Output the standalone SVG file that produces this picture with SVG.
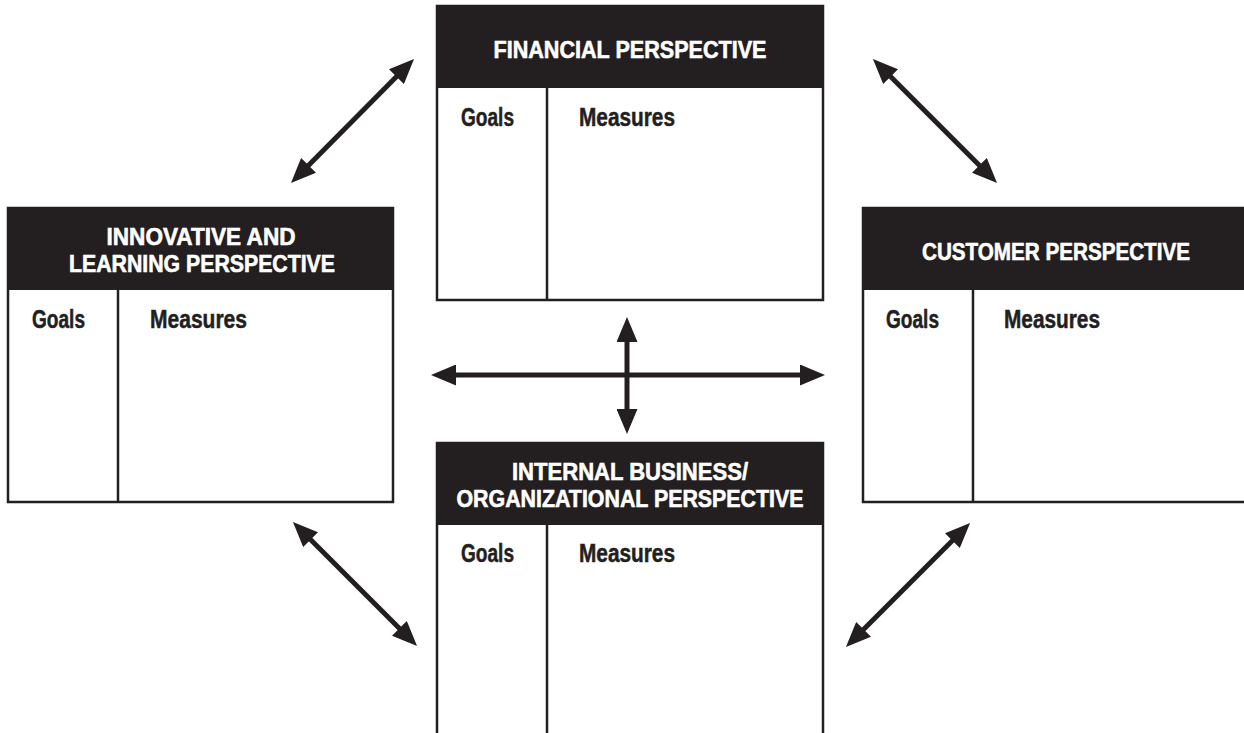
<svg xmlns="http://www.w3.org/2000/svg" width="1244" height="733" viewBox="0 0 1244 733">
  <style>
    .frame { fill: #ffffff; stroke: #231f20; stroke-width: 2.5; }
    .head { fill: #231f20; }
    .div { stroke: #231f20; stroke-width: 2.5; }
    .title { font-family: "Liberation Sans Narrow", "Liberation Sans", Arial, sans-serif; font-weight: bold; font-size: 24px; fill: #ffffff; stroke: #ffffff; stroke-width: 0.6; text-anchor: middle; }
    .lbl { font-family: "Liberation Sans Narrow", "Liberation Sans", Arial, sans-serif; font-weight: bold; font-size: 25px; fill: #231f20; stroke: #231f20; stroke-width: 0.5; }
    .arrow { stroke: #231f20; stroke-width: 5; fill: none; marker-start: url(#ahs); marker-end: url(#ahe); }
  </style>
  <defs>
    <marker id="ahe" markerUnits="userSpaceOnUse" viewBox="0 0 25 21" markerWidth="25" markerHeight="21" refX="15" refY="10.5" orient="auto">
      <path d="M0,0 L25,10.5 L0,21 z" fill="#231f20"/>
    </marker>
    <marker id="ahs" markerUnits="userSpaceOnUse" viewBox="0 0 25 21" markerWidth="25" markerHeight="21" refX="10" refY="10.5" orient="auto">
      <path d="M25,0 L0,10.5 L25,21 z" fill="#231f20"/>
    </marker>
  </defs>
  <rect x="0" y="0" width="1244" height="733" fill="#ffffff"/>

  <g id="financial">
    <rect class="frame" x="437" y="6" width="386" height="294"/>
    <rect class="head" x="436" y="5" width="388" height="83"/>
    <line class="div" x1="547" y1="88" x2="547" y2="300"/>
    <text class="title" x="630" y="58" textLength="273" lengthAdjust="spacingAndGlyphs">FINANCIAL PERSPECTIVE</text>
    <text class="lbl" x="461" y="126" textLength="53" lengthAdjust="spacingAndGlyphs">Goals</text>
    <text class="lbl" x="579" y="126" textLength="96" lengthAdjust="spacingAndGlyphs">Measures</text>
  </g>

  <g id="innovative">
    <rect class="frame" x="8" y="208" width="385" height="294"/>
    <rect class="head" x="7" y="207" width="387" height="83"/>
    <line class="div" x1="118" y1="290" x2="118" y2="502"/>
    <text class="title" x="201" y="245" textLength="189" lengthAdjust="spacingAndGlyphs">INNOVATIVE AND</text>
    <text class="title" x="202" y="272" textLength="266" lengthAdjust="spacingAndGlyphs">LEARNING PERSPECTIVE</text>
    <text class="lbl" x="32" y="328" textLength="53" lengthAdjust="spacingAndGlyphs">Goals</text>
    <text class="lbl" x="150" y="328" textLength="97" lengthAdjust="spacingAndGlyphs">Measures</text>
  </g>

  <g id="customer">
    <path class="frame" d="M1244,208 H863 V502 H1244"/>
    <rect class="head" x="862" y="207" width="382" height="83"/>
    <line class="div" x1="973" y1="290" x2="973" y2="502"/>
    <text class="title" x="1056" y="260" textLength="268" lengthAdjust="spacingAndGlyphs">CUSTOMER PERSPECTIVE</text>
    <text class="lbl" x="886" y="328" textLength="53" lengthAdjust="spacingAndGlyphs">Goals</text>
    <text class="lbl" x="1004" y="328" textLength="96" lengthAdjust="spacingAndGlyphs">Measures</text>
  </g>

  <g id="internal">
    <path class="frame" d="M437,733 V443 H823 V733"/>
    <rect class="head" x="436" y="442" width="388" height="83"/>
    <line class="div" x1="547" y1="525" x2="547" y2="733"/>
    <text class="title" x="630" y="480" textLength="236" lengthAdjust="spacingAndGlyphs">INTERNAL BUSINESS/</text>
    <text class="title" x="630" y="507" textLength="347" lengthAdjust="spacingAndGlyphs">ORGANIZATIONAL PERSPECTIVE</text>
    <text class="lbl" x="461" y="562" textLength="53" lengthAdjust="spacingAndGlyphs">Goals</text>
    <text class="lbl" x="579" y="562" textLength="96" lengthAdjust="spacingAndGlyphs">Measures</text>
  </g>

  <g id="connectors">
    <line class="arrow" x1="298" y1="176" x2="407" y2="66"/>
    <line class="arrow" x1="880" y1="66" x2="990" y2="176"/>
    <line class="arrow" x1="300" y1="529" x2="410" y2="639"/>
    <line class="arrow" x1="963" y1="530" x2="853" y2="640"/>
    <line class="arrow" x1="441" y1="375" x2="815" y2="375"/>
    <line class="arrow" x1="627" y1="327" x2="627" y2="424"/>
  </g>
</svg>
